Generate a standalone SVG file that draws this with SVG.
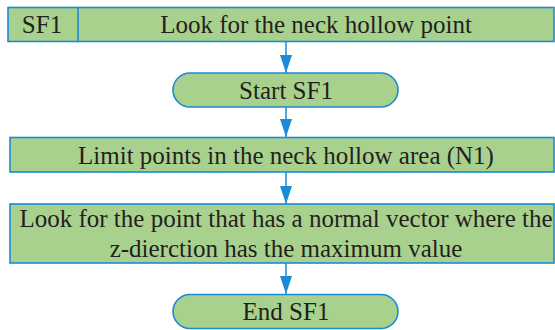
<svg xmlns="http://www.w3.org/2000/svg" width="555" height="330" viewBox="0 0 555 330">
  <defs>
    <style>
      .box { fill: #a9d18e; stroke: #1b8bd6; stroke-width: 1.6; }
      .lbl { font-family: "Liberation Serif", "DejaVu Serif", serif; font-size: 25px; fill: #231f20; text-anchor: middle; }
      .edge { stroke: #1b8bd6; stroke-width: 1.5; fill: none; }
    </style>
    <marker id="arrow" viewBox="0 0 18 12" refX="18" refY="6" markerWidth="18" markerHeight="12" markerUnits="userSpaceOnUse" orient="auto">
      <path d="M0,0 L18,6 L0,12 Z" fill="#1b8bd6"/>
    </marker>
  </defs>
  <rect width="555" height="330" fill="#ffffff"/>

  <g id="title">
    <rect class="box" x="8" y="7.5" width="546" height="34"/>
    <line x1="78" y1="7.5" x2="78" y2="41.5" stroke="#1b8bd6" stroke-width="1.6"/>
    <text class="lbl" x="42" y="33">SF1</text>
    <text class="lbl" x="316" y="33">Look for the neck hollow point</text>
  </g>

  <g id="start">
    <rect class="box" x="173" y="73" width="225" height="34" rx="17"/>
    <text class="lbl" x="286" y="99">Start SF1</text>
  </g>

  <g id="limit">
    <rect class="box" x="10" y="137.5" width="544" height="34.5"/>
    <text class="lbl" x="286" y="164">Limit points in the neck hollow area (N1)</text>
  </g>

  <g id="search">
    <rect class="box" x="10" y="204" width="544" height="59"/>
    <text class="lbl" x="286" y="227">Look for the point that has a normal vector where the</text>
    <text class="lbl" x="286" y="257">z-dierction has the maximum value</text>
  </g>

  <g id="end">
    <rect class="box" x="173" y="294.5" width="225" height="34" rx="17"/>
    <text class="lbl" x="286" y="320">End SF1</text>
  </g>

  <g id="connectors">
    <path class="edge" d="M286,42 V73" marker-end="url(#arrow)"/>
    <path class="edge" d="M286,107 V137" marker-end="url(#arrow)"/>
    <path class="edge" d="M286,172 V204" marker-end="url(#arrow)"/>
    <path class="edge" d="M286,263 V294" marker-end="url(#arrow)"/>
  </g>
</svg>
